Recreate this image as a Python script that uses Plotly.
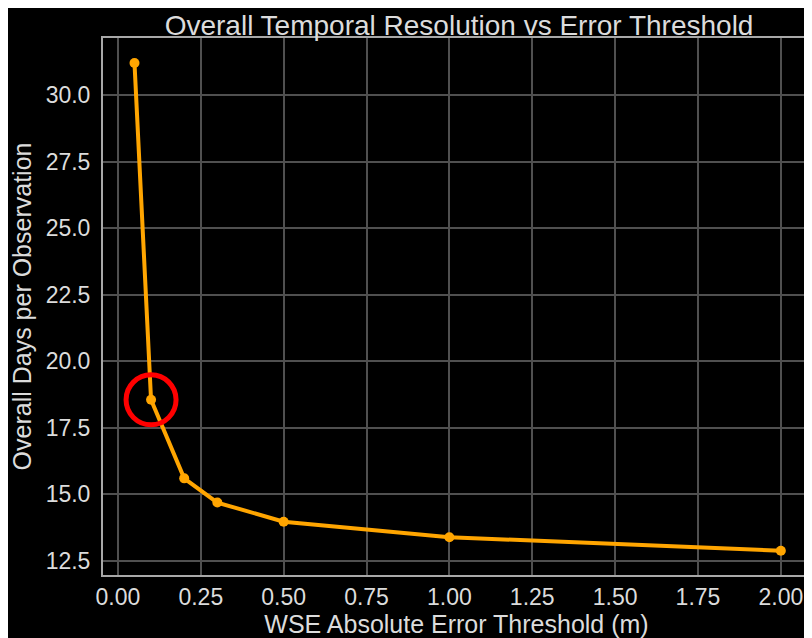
import plotly.graph_objects as go

# error thresholds (m) and resulting days per observation
thresholds = [0.05, 0.1, 0.2, 0.3, 0.5, 1.0, 2.0]
days_per_obs = [31.2, 18.55, 15.6, 14.69, 13.97, 13.39, 12.88]

# highlighted threshold
highlight_x = [0.1]
highlight_y = [18.55]

x_ticks = [0.0, 0.25, 0.5, 0.75, 1.0, 1.25, 1.5, 1.75, 2.0]
y_ticks = [12.5, 15.0, 17.5, 20.0, 22.5, 25.0, 27.5, 30.0]

FONT = "Liberation Sans, Arial, sans-serif"
TEXT = "#dcdcdc"

fig = go.Figure()

fig.add_trace(go.Scatter(
    x=thresholds,
    y=days_per_obs,
    mode="lines+markers",
    line=dict(color="#FFA500", width=4),
    marker=dict(color="#FFA500", size=10),
    showlegend=False,
    hoverinfo="skip"
))

# red ring around the chosen threshold
fig.add_trace(go.Scatter(
    x=highlight_x,
    y=highlight_y,
    mode="markers",
    marker=dict(size=50, color="rgba(0,0,0,0)",
                line=dict(color="#FF0000", width=5)),
    showlegend=False,
    hoverinfo="skip"
))

# page body has an 8px margin, so the figure is a bit smaller than the window
fig.update_layout(
    width=804,
    height=630,
    paper_bgcolor="black",
    plot_bgcolor="black",
    margin=dict(l=95, r=0, t=30, b=63),
    title=dict(
        text="Overall Temporal Resolution vs Error Threshold",
        x=0.561, xanchor="center",
        y=0.972, yanchor="middle",
        font=dict(family=FONT, size=28, color=TEXT)
    ),
    xaxis=dict(
        range=[-0.045, 2.088],
        tickvals=x_ticks,
        ticktext=[f"{v:.2f}" for v in x_ticks],
        showgrid=True,
        gridcolor="#505050",
        gridwidth=1.5,
        zeroline=False,
        showline=True,
        linecolor="#a8a8a8",
        linewidth=2,
        mirror=True,
        ticks="",
        tickfont=dict(family=FONT, size=23, color=TEXT),
        title=dict(text="WSE Absolute Error Threshold (m)",
                   font=dict(family=FONT, size=25, color=TEXT),
                   standoff=2)
    ),
    yaxis=dict(
        range=[11.97, 32.14],
        tickvals=y_ticks,
        ticktext=[f"{v:.1f}" for v in y_ticks],
        showgrid=True,
        gridcolor="#505050",
        gridwidth=1.5,
        zeroline=False,
        showline=True,
        linecolor="#a8a8a8",
        linewidth=2,
        mirror=True,
        ticks="",
        ticklabelstandoff=6,
        tickfont=dict(family=FONT, size=23, color=TEXT),
        title=dict(text="Overall Days per Observation",
                   font=dict(family=FONT, size=25, color=TEXT),
                   standoff=8)
    )
)

fig.write_html("out.html")
